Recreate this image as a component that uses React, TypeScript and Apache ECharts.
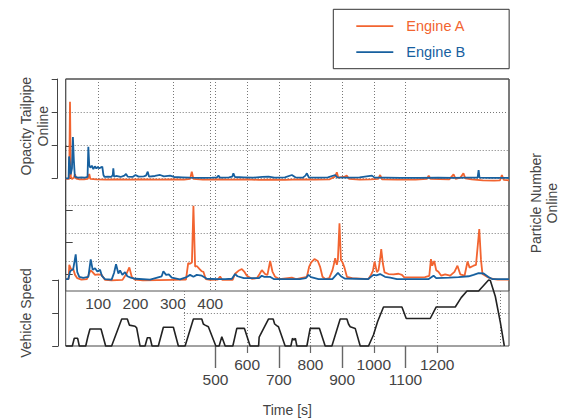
import React, { useEffect, useRef } from "react";
import * as echarts from "echarts";

// ---------- data ----------
const T_MIN = 13;
const T_MAX = 1200;

const legendNames = ["Engine A", "Engine B"];

// Opacity Tailpipe Online  [time s, value]
const opacityEngineA: [number, number][] = [
  [13, -0.02], [20, -0.02], [22.4, -0.02], [24.5, 2.31], [26.8, 0.04], [30, -0.02], [35, 0.02], [38, 0.12],
  [41, -0.01], [50, -0.03], [62, -0.03], [72, -0.02], [76, 0.13], [79, -0.02], [95, -0.03], [120, -0.04],
  [150, -0.03], [180, -0.04], [215, -0.03], [260, -0.04], [300, -0.03], [330, -0.04], [346, -0.02], [350.6, 0.2],
  [355, -0.02], [380, -0.04], [420, -0.03], [455, -0.04], [500, -0.03], [530, -0.05], [560, -0.04], [600, -0.05],
  [640, -0.03], [680, -0.04], [720, -0.03], [734, 0.05], [739, 0.18], [743, 0.02], [760, 0.05], [766, 0.08],
  [772, -0.02], [800, -0.04], [830, -0.03], [850, -0.02], [855, 0.1], [860, -0.03], [900, -0.04], [950, -0.04],
  [980, -0.02], [985, 0.08], [990, -0.02], [1040, -0.03], [1051.6, 0.12], [1057, -0.02], [1070, 0.02], [1078, 0.15],
  [1083, 0.0], [1100, -0.03], [1130, -0.06], [1160, -0.07], [1176, -0.06], [1181, 0.1], [1186, -0.05], [1200, -0.06],
];
const opacityEngineB: [number, number][] = [
  [13, 0.0], [20.8, 0.0], [22, 0.66], [23.5, 0.52], [26.5, 0.12], [29.8, 0.3], [32.3, 1.25], [34.8, 0.55],
  [37.5, 0.05], [45, 0.02], [55, 0.03], [65, 0.02], [71.5, 0.04], [73.6, 0.95], [76, 0.4], [79, 0.32],
  [83, 0.38], [87, 0.28], [91, 0.36], [95, 0.3], [99, 0.34], [103, 0.3], [107, 0.33], [111, 0.35],
  [114, 0.1], [117, 0.04], [126, 0.05], [135, 0.04], [139, 0.1], [140.5, 0.3], [142.5, 0.05], [148, 0.07],
  [160, 0.04], [170, 0.08], [174.6, 0.13], [179, 0.05], [192, 0.04], [200, 0.1], [208, 0.05], [222, 0.06],
  [228, 0.08], [232.7, 0.2], [236, 0.05], [252, 0.07], [265.7, 0.1], [276, 0.06], [292.5, 0.08], [303, 0.04],
  [325, 0.03], [345, 0.02], [380, 0.01], [405, 0.02], [418, 0.03], [422, 0.08], [426, 0.02], [450, 0.03],
  [459, 0.05], [462, 0.15], [466, 0.04], [490, 0.03], [515, 0.02], [540, 0.04], [556, 0.05], [572, 0.02],
  [600, 0.03], [618.6, 0.1], [628, 0.03], [648, 0.02], [655, 0.08], [658.8, 0.15], [664, 0.03], [690, 0.02],
  [715, 0.03], [734.6, 0.1], [740, 0.03], [770, 0.02], [800, 0.03], [833, 0.08], [840, 0.02], [870, 0.02],
  [910, 0.01], [960, 0.01], [1010, 0.02], [1050, 0.01], [1090, 0.02], [1116, 0.02], [1118.6, 0.25], [1121, 0.02],
  [1150, 0.01], [1200, 0.01],
];

// Particle Number Online  [time s, value]
const particleEngineA: [number, number][] = [
  [13, 0.35], [21, 0.35], [22.6, 0.86], [27.2, 0.71], [33.4, 0.7], [38, 0.5], [44, 0.38], [55, 0.33],
  [70, 0.35], [76, 0.56], [80, 0.66], [85, 0.6], [91.5, 0.5], [100, 0.52], [109, 0.5], [118, 0.32],
  [136, 0.3], [165, 0.32], [176.5, 0.56], [183.4, 0.77], [189.8, 0.43], [198, 0.33], [220, 0.3], [260, 0.31],
  [300, 0.32], [335, 0.33], [341, 0.92], [345.5, 0.9], [351, 0.95], [355, 2.99], [359.5, 0.8], [364, 0.82],
  [371, 0.72], [377.4, 0.63], [381.7, 0.61], [388, 0.35], [400, 0.32], [420, 0.33], [426.5, 0.44], [432, 0.32],
  [460, 0.32], [466.6, 0.54], [477, 0.66], [484.6, 0.71], [491, 0.62], [498, 0.47], [511.4, 0.36], [524.8, 0.38],
  [531.8, 0.52], [538.2, 0.67], [547, 0.53], [553.2, 0.5], [560.5, 1.0], [566.6, 0.62], [573.8, 0.43], [585, 0.35],
  [618.6, 0.4], [630, 0.35], [658.8, 0.43], [665, 0.8], [670.3, 0.95], [679, 1.07], [688, 1.0], [694, 0.8],
  [700.6, 0.43], [707.8, 0.35], [718.5, 0.38], [727.4, 0.67], [731, 0.88], [734.6, 1.1], [739, 0.86], [741.8, 1.04],
  [746.1, 2.36], [749.9, 1.04], [754.2, 0.95], [759.5, 0.76], [766, 0.43], [780, 0.38], [823.8, 0.35], [830.3, 0.5],
  [835.6, 0.64], [840, 0.98], [846.3, 0.6], [850.6, 0.67], [855.2, 1.1], [857.9, 1.43], [862.4, 0.9], [866.7, 0.59],
  [877.4, 0.53], [890.8, 0.52], [904.2, 0.54], [913.3, 0.5], [919.5, 0.41], [950, 0.41], [975, 0.42], [986.5, 0.46],
  [991, 1.07], [994.5, 0.83], [999.8, 1.0], [1005, 0.67], [1011, 0.61], [1018.6, 0.47], [1029, 0.52], [1042.5, 0.47],
  [1054, 0.61], [1062, 0.83], [1069.5, 0.52], [1081, 0.47], [1089, 0.98], [1094.5, 0.76], [1105, 0.83], [1111.6, 0.86],
  [1120.4, 2.15], [1125, 1.04], [1129, 0.53], [1141, 0.43], [1154.4, 0.36], [1170, 0.33], [1200, 0.33],
];
const particleEngineB: [number, number][] = [
  [13, 0.35], [20, 0.35], [24.5, 0.61], [27, 0.66], [33, 0.7], [39.8, 1.24], [44, 0.6], [49.4, 0.43],
  [60, 0.39], [73.6, 0.43], [80, 1.06], [85.3, 0.68], [91.5, 0.74], [97.7, 0.62], [105, 0.68], [110, 0.46],
  [118, 0.35], [136, 0.33], [142.4, 0.57], [147.8, 0.88], [154, 0.55], [158.5, 0.66], [164.7, 0.5], [171.9, 0.6],
  [178, 0.45], [187, 0.4], [200, 0.36], [239, 0.33], [270, 0.45], [274.5, 0.63], [281.8, 0.5], [289, 0.52],
  [297, 0.4], [319, 0.34], [337, 0.42], [346, 0.5], [355, 0.43], [364, 0.5], [377.4, 0.47], [391, 0.36],
  [420, 0.35], [440, 0.35], [458, 0.36], [466.6, 0.53], [473, 0.45], [490, 0.38], [530, 0.38], [538, 0.47],
  [545, 0.43], [560, 0.43], [570, 0.35], [640, 0.35], [656, 0.38], [663, 0.5], [670, 0.42], [690, 0.35],
  [727, 0.35], [742, 0.57], [750, 0.45], [760, 0.37], [823, 0.35], [837, 0.5], [845, 0.48], [855, 0.53],
  [868, 0.43], [882, 0.4], [900, 0.35], [985, 0.35], [998, 0.47], [1005, 0.38], [1040, 0.4], [1065, 0.42],
  [1092, 0.45], [1105, 0.5], [1118.6, 0.56], [1132, 0.55], [1145, 0.42], [1155, 0.35], [1200, 0.35],
];

// Vehicle Speed [time s, km/h]
const vehicleSpeed: [number, number][] = [
  [13, 0], [30.7, 0], [36, 14], [45, 14], [49.4, 0], [66.6, 0], [72, 16], [78, 31], [107.6, 31], [120, 0],
  [136, 0], [163, 49], [178, 49], [183.4, 38], [198.7, 36], [203, 33], [212, 0], [225.5, 0], [231.6, 15],
  [238.9, 15], [244.2, 0], [261, 0], [274.5, 34], [301.3, 34], [314.7, 0], [332.7, 0], [354.9, 49], [377.4, 49],
  [381.5, 40], [386.3, 38], [395, 35], [415, 0], [423.8, 0], [431, 17], [440, 0], [460.5, 0], [471.2, 32],
  [491.6, 32], [506.8, 0], [529.5, 0], [531, 16], [555.9, 49], [568.5, 49], [572.5, 40], [578, 37], [582.7, 35],
  [600.6, 0], [615.9, 0], [620.2, 14], [624, 11], [628, 14], [632, 0], [658.8, 0], [667.6, 32], [692.5, 32],
  [707.8, 0], [725.8, 0], [748, 49], [766, 49], [770.2, 40], [774.8, 35], [788.2, 32], [801.6, 0], [823.8, 0],
  [837, 20], [848, 44], [855, 56], [864, 71], [913.3, 71], [924.8, 50], [989.1, 50], [1005.2, 71], [1056.1, 71],
  [1072, 88], [1087.5, 100], [1118.6, 100], [1145.4, 120], [1150, 119], [1163.4, 90], [1176.8, 43], [1187.5, 0],
];

// tick labels
const upperTimeTicks = [100, 200, 300, 400];
const lowerLongTicks = [500, 700, 900, 1100];
const lowerShortTicks = [600, 800, 1000, 1200];

// ---------- styling ----------
const ORANGE = "#f26430";
const BLUE = "#17609f";
const FONT = '"Liberation Sans", Arial, sans-serif';
const AXIS_COLOR = "#444";
const TEXT_COLOR = "#444";
const GRID_COLOR = "#777";
// thin horizontal stroke used as legend icon (tiny invisible corner marks keep the full box)
const LEGEND_LINE_ICON =
  "path://M0,0L0.01,0L0,0.01Z M37,14L36.99,14L37,13.99Z M0,6.1L37,6.1L37,7.9L0,7.9Z";

const PLOT_LEFT = 65.7;
const PLOT_WIDTH = 443.3;
const PX_PER_S = PLOT_WIDTH / (T_MAX - T_MIN);
const xOf = (t: number) => PLOT_LEFT + (t - T_MIN) * PX_PER_S;
// second (misaligned) time scale of the lower axis
const LOW_ZERO = 57.2;
const LOW_PX = 0.3166;
const xLow = (t: number) => LOW_ZERO + t * LOW_PX;

const dotted = (extra: any = {}) => ({
  show: true,
  lineStyle: { color: GRID_COLOR, width: 1, type: [1, 2] },
  ...extra,
});
const off = { show: false };

const gridDefs: any[] = [
  { left: PLOT_LEFT, top: 79, width: PLOT_WIDTH, height: 99.3 }, // 0 opacity data
  { left: PLOT_LEFT, top: 150, width: PLOT_WIDTH, height: 138.75 }, // 1 particle data + grid
  { left: PLOT_LEFT, top: 146, width: PLOT_WIDTH, height: 128.3 }, // 2 particle axis
  { left: PLOT_LEFT, top: 280, width: PLOT_WIDTH, height: 66 }, // 3 speed data
  { left: PLOT_LEFT, top: 79, width: 340.3, height: 99.3 }, // 4 opacity grid lines
  { left: 406, top: 79, width: PLOT_LEFT + PLOT_WIDTH - 406, height: 66.2 }, // 5 opacity grid line (right part)
  {
    left: xOf(upperTimeTicks[0]),
    top: 79,
    width: xOf(upperTimeTicks[upperTimeTicks.length - 1]) - xOf(upperTimeTicks[0]),
    height: 212,
  }, // 6 upper time scale
  { left: xLow(500), top: 79, width: xLow(1100) - xLow(500), height: 212 }, // 7 lower-scale verticals (upper panel)
  { left: xLow(400), top: 291, width: PLOT_LEFT + PLOT_WIDTH - xLow(400), height: 55 }, // 8 speed panel grid
  { left: xLow(500), top: 291, width: xLow(1100) - xLow(500), height: 55 }, // 9 long ticks
  { left: xLow(600), top: 291, width: xLow(1200) - xLow(600), height: 55 }, // 10 short ticks
  { left: PLOT_LEFT, top: 79, width: PLOT_WIDTH, height: 267, show: true, borderColor: AXIS_COLOR, borderWidth: 1 }, // 11 frame
  { left: PLOT_LEFT, top: 79, width: PLOT_WIDTH, height: 212, show: true, borderColor: "#555", borderWidth: 1 }, // 12 upper frame
];
const grids = gridDefs.map((g) => ({
  show: false,
  containLabel: false,
  outerBoundsMode: "none",
  backgroundColor: "transparent",
  ...g,
}));

const hiddenAxis = (gridIndex: number, min = 0, max = 1) => ({
  type: "value",
  gridIndex,
  min,
  max,
  show: false,
  splitLine: off,
});

const nameStyle = { fontFamily: FONT, fontSize: 14, color: TEXT_COLOR, lineHeight: 16.5 };
const tickLabel = (margin: number) => ({
  show: true,
  margin,
  fontFamily: FONT,
  fontSize: 15.5,
  color: TEXT_COLOR,
  showMinLabel: true,
  showMaxLabel: true,
  formatter: (v: number) => String(v),
});

const xAxes: any[] = [
  hiddenAxis(0, T_MIN, T_MAX),
  hiddenAxis(1, T_MIN, T_MAX),
  hiddenAxis(2),
  hiddenAxis(3, T_MIN, T_MAX),
  hiddenAxis(4),
  hiddenAxis(5),
  {
    type: "value",
    gridIndex: 6,
    min: upperTimeTicks[0],
    max: upperTimeTicks[upperTimeTicks.length - 1],
    interval: upperTimeTicks[1] - upperTimeTicks[0],
    position: "bottom",
    axisLine: off,
    axisTick: off,
    axisLabel: tickLabel(4),
    splitLine: dotted({ showMinLine: true, showMaxLine: true }),
  },
  {
    type: "value",
    gridIndex: 7,
    min: 500,
    max: 1100,
    interval: 100,
    axisLine: off,
    axisTick: off,
    axisLabel: off,
    splitLine: dotted({ showMinLine: true, showMaxLine: true }),
  },
  {
    type: "value",
    gridIndex: 8,
    min: 400,
    max: 400 + (PLOT_LEFT + PLOT_WIDTH - xLow(400)) / LOW_PX,
    interval: 200,
    axisLine: off,
    axisTick: off,
    axisLabel: off,
    splitLine: dotted({ showMinLine: true, showMaxLine: false }),
  },
  {
    type: "value",
    gridIndex: 9,
    min: lowerLongTicks[0],
    max: lowerLongTicks[lowerLongTicks.length - 1],
    interval: lowerLongTicks[1] - lowerLongTicks[0],
    position: "bottom",
    axisLine: off,
    axisTick: { show: true, inside: false, length: 22, lineStyle: { color: "#666", width: 1.4 } },
    axisLabel: tickLabel(25),
    splitLine: off,
  },
  {
    type: "value",
    gridIndex: 10,
    min: lowerShortTicks[0],
    max: lowerShortTicks[lowerShortTicks.length - 1],
    interval: lowerShortTicks[1] - lowerShortTicks[0],
    position: "bottom",
    axisLine: off,
    axisTick: { show: true, inside: false, length: 7, lineStyle: { color: "#666", width: 1.2 } },
    axisLabel: tickLabel(10),
    splitLine: off,
  },
  {
    type: "value",
    gridIndex: 11,
    min: 0,
    max: 1,
    position: "bottom",
    axisLine: off,
    axisTick: off,
    axisLabel: off,
    splitLine: off,
    name: "Time [s]",
    nameLocation: "middle",
    nameGap: 57,
    nameTextStyle: { fontFamily: FONT, fontSize: 14, color: TEXT_COLOR },
  },
  hiddenAxis(12),
];

const axisLine = { show: true, lineStyle: { color: AXIS_COLOR, width: 1 } };
const yAxes: any[] = [
  {
    type: "value",
    gridIndex: 0,
    min: 0,
    max: 3,
    interval: 1,
    position: "left",
    offset: 8.5,
    axisLine,
    axisTick: { show: true, inside: false, length: 5.5, lineStyle: { color: AXIS_COLOR, width: 1 } },
    axisLabel: off,
    splitLine: off,
    name: "Opacity Tailpipe\nOnline",
    nameLocation: "middle",
    nameRotate: 90,
    nameGap: 6,
    nameTextStyle: { ...nameStyle, padding: [0, 0, 0, 5] },
  },
  {
    type: "value",
    gridIndex: 1,
    min: 0,
    max: 5,
    interval: 1,
    axisLine: off,
    axisTick: off,
    axisLabel: off,
    splitLine: dotted({ showMinLine: false, showMaxLine: true }),
  },
  {
    type: "value",
    gridIndex: 2,
    min: 0,
    max: 4,
    interval: 1,
    position: "right",
    offset: 7.7,
    axisLine,
    axisTick: { show: true, inside: false, length: 7, lineStyle: { color: AXIS_COLOR, width: 1 } },
    axisLabel: off,
    splitLine: off,
    name: "Particle Number\nOnline",
    nameLocation: "middle",
    nameRotate: 90,
    nameGap: 12,
    nameTextStyle: { ...nameStyle, lineHeight: 15.5, padding: [0, 0, 0, 14] },
  },
  {
    type: "value",
    gridIndex: 3,
    min: 0,
    max: 120,
    interval: 60,
    position: "left",
    offset: 7.5,
    axisLine,
    axisTick: { show: true, inside: false, length: 6, lineStyle: { color: AXIS_COLOR, width: 1 } },
    axisLabel: off,
    splitLine: off,
    name: "Vehicle Speed",
    nameLocation: "middle",
    nameRotate: 90,
    nameGap: 24,
    nameTextStyle: nameStyle,
  },
  {
    type: "value",
    gridIndex: 4,
    min: 0,
    max: 3,
    interval: 1,
    axisLine: off,
    axisTick: off,
    axisLabel: off,
    splitLine: dotted({ showMinLine: false, showMaxLine: false }),
  },
  {
    type: "value",
    gridIndex: 5,
    min: 0,
    max: 2,
    interval: 1,
    axisLine: off,
    axisTick: off,
    axisLabel: off,
    splitLine: dotted({ showMinLine: false, showMaxLine: false }),
  },
  hiddenAxis(6),
  hiddenAxis(7),
  {
    type: "value",
    gridIndex: 8,
    min: 0,
    max: 100,
    interval: 60,
    axisLine: off,
    axisTick: off,
    axisLabel: off,
    splitLine: dotted({ showMinLine: false, showMaxLine: false }),
  },
  hiddenAxis(9),
  hiddenAxis(10),
  hiddenAxis(11),
  hiddenAxis(12),
];

const lineSeries = (name: string, data: [number, number][], axis: number, color: string, width = 1.8) => ({
  type: "line",
  name,
  data,
  xAxisIndex: axis,
  yAxisIndex: axis,
  symbol: "none",
  showSymbol: false,
  clip: false,
  lineStyle: { color, width },
  itemStyle: { color },
  emphasis: { disabled: true },
});

const option: any = {
  animation: false,
  backgroundColor: "#fff",
  textStyle: { fontFamily: FONT },
  legend: {
    data: [
      { name: legendNames[0], icon: LEGEND_LINE_ICON, itemStyle: { color: ORANGE }, textStyle: { color: ORANGE } },
      { name: legendNames[1], icon: LEGEND_LINE_ICON, itemStyle: { color: BLUE }, textStyle: { color: BLUE } },
    ],
    orient: "vertical",
    left: 333.3,
    top: 9.3,
    padding: [9.4, 44, 9, 23],
    itemWidth: 37,
    itemHeight: 14,
    itemGap: 11,
    borderColor: "#333",
    borderWidth: 1,
    borderRadius: 0,
    selectedMode: false,
    textStyle: { fontFamily: FONT, fontSize: 14.5, padding: [0, 0, 0, 8] },
  },
  grid: grids,
  xAxis: xAxes,
  yAxis: yAxes,
  series: [
    lineSeries(legendNames[0], opacityEngineA, 0, ORANGE),
    lineSeries(legendNames[1], opacityEngineB, 0, BLUE),
    lineSeries(legendNames[0], particleEngineA, 1, ORANGE),
    lineSeries(legendNames[1], particleEngineB, 1, BLUE),
    lineSeries("Vehicle Speed", vehicleSpeed, 3, "#222", 1.6),
  ],
};

export default function App() {
  const ref = useRef<HTMLDivElement>(null);
  useEffect(() => {
    if (!ref.current) return;
    const chart = echarts.init(ref.current, undefined, { renderer: "svg" });
    chart.setOption(option);
    return () => chart.dispose();
  }, []);
  return (
    <div
      ref={ref}
      style={{ position: "fixed", left: 0, top: 0, width: 561, height: 419, background: "#fff" }}
    />
  );
}
